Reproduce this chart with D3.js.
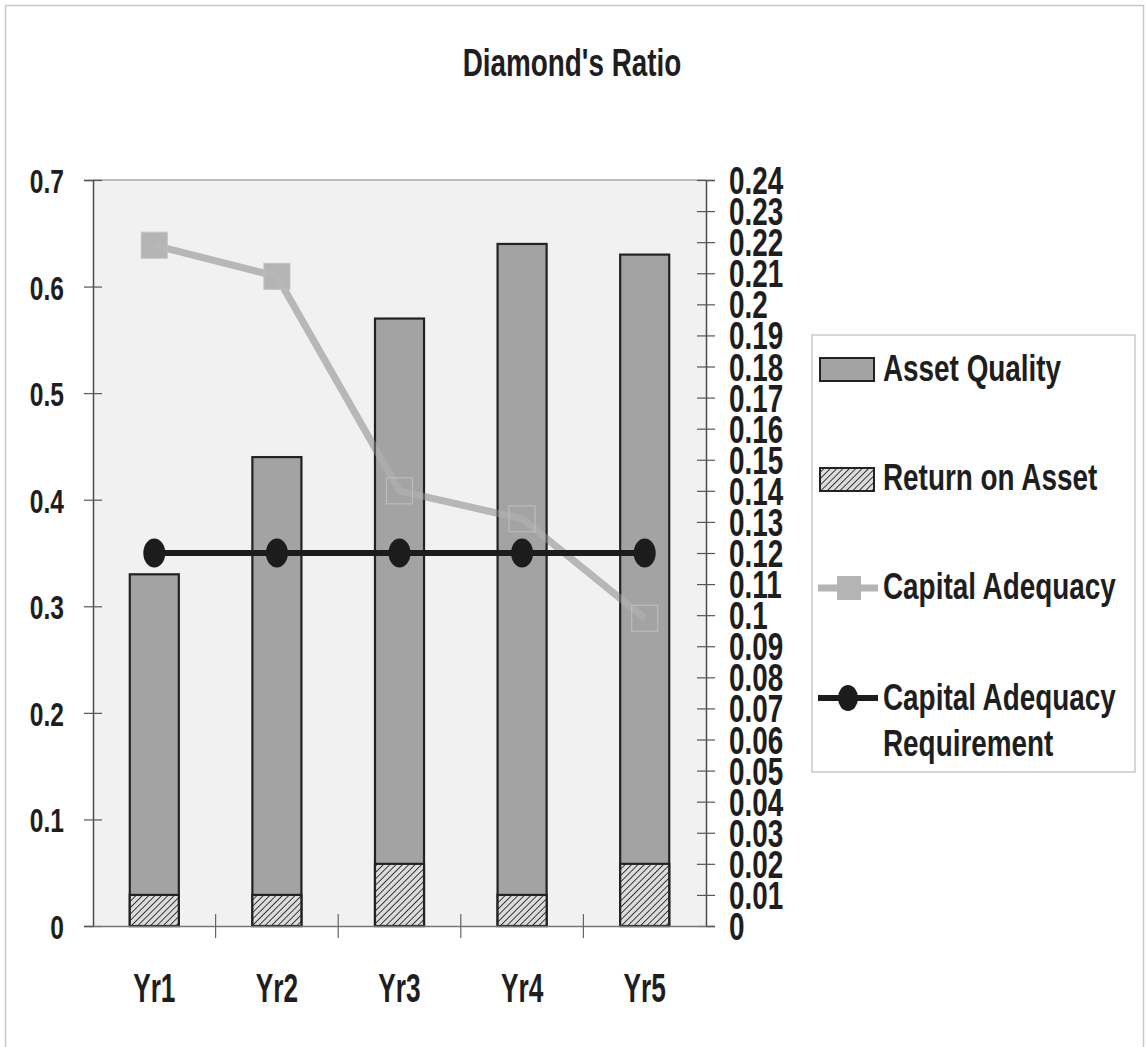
<!DOCTYPE html>
<html>
<head>
<meta charset="utf-8">
<title>Diamond's Ratio</title>
<style>
  body { margin: 0; background: #fff; }
  svg text { font-family: "Liberation Sans", Arial, sans-serif; font-weight: bold; fill: #1e1e1e; }
</style>
</head>
<body>
<script src="https://d3js.org/d3.v7.min.js"></script>
<script>
// data
const categories = ['Yr1', 'Yr2', 'Yr3', 'Yr4', 'Yr5'];
const assetQuality = [0.33, 0.44, 0.57, 0.64, 0.63];          // left axis
const returnOnAsset = [0.01, 0.01, 0.02, 0.01, 0.02];         // right axis
const capitalAdequacy = [0.219, 0.209, 0.14, 0.131, 0.099];   // right axis
const capitalRequirement = [0.12, 0.12, 0.12, 0.12, 0.12];    // right axis
const leftTicks = [0, 0.1, 0.2, 0.3, 0.4, 0.5, 0.6, 0.7];
const rightTicks = [0, 0.01, 0.02, 0.03, 0.04, 0.05, 0.06, 0.07, 0.08, 0.09, 0.1, 0.11, 0.12,
                    0.13, 0.14, 0.15, 0.16, 0.17, 0.18, 0.19, 0.2, 0.21, 0.22, 0.23, 0.24];
const legendNames = ['Asset Quality', 'Return on Asset', 'Capital Adequacy', 'Capital Adequacy|Requirement'];

const W = 1147, H = 1047;
const plot = {left: 93, right: 706, top: 180, bottom: 926};

const svg = d3.select('body').append('svg').attr('width', W).attr('height', H);

// helper: narrow, slightly stretched text like the original
function label(g, x, y, txt, size, sy, anchor) {
  return g.append('text')
    .attr('transform', 'translate(' + x + ',' + y + ') scale(0.82,' + sy + ')')
    .attr('text-anchor', anchor || 'start')
    .style('font-size', size + 'px')
    .text(txt);
}

const defs = svg.append('defs');
const hatch = defs.append('pattern').attr('id', 'hatch')
  .attr('patternUnits', 'userSpaceOnUse').attr('width', 4.5).attr('height', 4.5)
  .attr('patternTransform', 'rotate(45)');
hatch.append('rect').attr('width', 4.5).attr('height', 4.5).attr('fill', '#dcdcdc');
hatch.append('line').attr('x1', 0).attr('y1', 0).attr('x2', 0).attr('y2', 4.5)
  .attr('stroke', '#2a2a2a').attr('stroke-width', 1.8);

// outer frame
svg.append('rect').attr('x', 5.5).attr('y', 5.5).attr('width', 1138).attr('height', 1050)
  .attr('fill', 'none').attr('stroke', '#c8c8c8').attr('stroke-width', 1.5);

// title
label(svg, 572, 76, "Diamond's Ratio", 34, 1.15, 'middle');

const x = d3.scaleBand().domain(categories).range([plot.left, plot.right]).padding(0);
const yL = d3.scaleLinear().domain([0, 0.7]).range([plot.bottom, plot.top]);
const yR = d3.scaleLinear().domain([0, 0.24]).range([plot.bottom, plot.top]);
const barW = x.bandwidth() / 2.5;
const cx = d => x(d) + x.bandwidth() / 2;

// plot area
svg.append('rect').attr('x', plot.left).attr('y', plot.top)
  .attr('width', plot.right - plot.left).attr('height', plot.bottom - plot.top)
  .attr('fill', '#f1f1f1');
svg.append('line').attr('x1', plot.left).attr('x2', plot.right).attr('y1', plot.top).attr('y2', plot.top)
  .attr('stroke', '#a8a8a8').attr('stroke-width', 1.5);

// capital adequacy line (behind the bars)
const caData = categories.map((c, i) => ({c: c, v: capitalAdequacy[i]}));
const caLine = d3.line().x(d => cx(d.c)).y(d => yR(d.v));
function drawCA(g, op) {
  g.append('path').datum(caData).attr('d', caLine)
    .attr('fill', 'none').attr('stroke', '#b4b4b4').attr('stroke-width', 7).attr('opacity', op);
  g.selectAll('rect.m').data(caData).enter().append('rect').attr('class', 'm')
    .attr('x', d => cx(d.c) - 13).attr('y', d => yR(d.v) - 13)
    .attr('width', 26).attr('height', 26)
    .attr('fill', '#b4b4b4').attr('opacity', op);
}
drawCA(svg.append('g'), 1);

// bars
const bars = svg.append('g');
bars.selectAll('rect.aq').data(categories).enter().append('rect').attr('class', 'aq')
  .attr('x', d => cx(d) - barW / 2).attr('width', barW)
  .attr('y', (d, i) => yL(assetQuality[i])).attr('height', (d, i) => plot.bottom - yL(assetQuality[i]))
  .attr('fill', '#a3a3a3').attr('stroke', '#222').attr('stroke-width', 2.2);
bars.selectAll('rect.roa').data(categories).enter().append('rect').attr('class', 'roa')
  .attr('x', d => cx(d) - barW / 2).attr('width', barW)
  .attr('y', (d, i) => yR(returnOnAsset[i])).attr('height', (d, i) => plot.bottom - yR(returnOnAsset[i]))
  .attr('fill', 'url(#hatch)').attr('stroke', '#222').attr('stroke-width', 2.2);

// faint trace of the line over the bars
const trace = svg.append('g');
trace.append('path').datum(caData).attr('d', caLine)
  .attr('fill', 'none').attr('stroke', '#bcbcbc').attr('stroke-width', 7).attr('opacity', 0.35);
trace.selectAll('rect').data(caData).enter().append('rect')
  .attr('x', d => cx(d.c) - 13).attr('y', d => yR(d.v) - 13)
  .attr('width', 26).attr('height', 26)
  .attr('fill', 'none').attr('stroke', '#c2c2c2').attr('stroke-width', 1.2).attr('opacity', 0.8);

// axes
const axL = svg.append('g').attr('transform', 'translate(' + plot.left + ',0)')
  .call(d3.axisLeft(yL).tickValues(leftTicks).tickSize(9).tickFormat(d3.format('')));
const axR = svg.append('g').attr('transform', 'translate(' + plot.right + ',0)')
  .call(d3.axisRight(yR).tickValues(rightTicks).tickSize(9).tickFormat(d3.format('')));
const axB = svg.append('g').attr('transform', 'translate(0,' + plot.bottom + ')')
  .call(d3.axisBottom(x).tickSize(0));

[axL, axR, axB].forEach(a => {
  a.select('.domain').attr('stroke', '#4a4a4a').attr('stroke-width', 1.5);
  a.selectAll('.tick line').attr('stroke', '#555').attr('stroke-width', 1.2);
  a.selectAll('.tick text').remove();
});
axL.selectAll('.tick line').attr('x1', -9).attr('x2', 9);
axR.selectAll('.tick line').attr('x1', -9).attr('x2', 9);
axB.select('.domain').attr('stroke', '#777');

leftTicks.forEach(t => label(svg, 64, yL(t) + 13, String(t), 30, 1.12, 'end'));
rightTicks.forEach(t => label(svg, 729, yR(t) + 14, String(t), 34, 1.15, 'start'));

// category separators
categories.slice(1).forEach(c => {
  svg.append('line').attr('x1', x(c)).attr('x2', x(c)).attr('y1', plot.bottom - 12).attr('y2', plot.bottom + 12)
    .attr('stroke', '#666').attr('stroke-width', 1.2);
});
categories.forEach(c => label(svg, cx(c), 1002, c, 32, 1.27, 'middle'));

// capital adequacy requirement line (on top)
const reqData = categories.map((c, i) => ({c: c, v: capitalRequirement[i]}));
svg.append('path').datum(reqData).attr('d', d3.line().x(d => cx(d.c)).y(d => yR(d.v)))
  .attr('fill', 'none').attr('stroke', '#1c1c1c').attr('stroke-width', 6);
svg.selectAll('ellipse.req').data(reqData).enter().append('ellipse').attr('class', 'req')
  .attr('cx', d => cx(d.c)).attr('cy', d => yR(d.v)).attr('rx', 11).attr('ry', 14.5)
  .attr('fill', '#1c1c1c');

// legend
const lg = svg.append('g');
lg.append('rect').attr('x', 812).attr('y', 335).attr('width', 323).attr('height', 437)
  .attr('fill', '#fff').attr('stroke', '#bdbdbd').attr('stroke-width', 1.2);
lg.append('rect').attr('x', 820).attr('y', 358).attr('width', 54).attr('height', 23)
  .attr('fill', '#a3a3a3').attr('stroke', '#222').attr('stroke-width', 2);
lg.append('rect').attr('x', 820).attr('y', 468).attr('width', 54).attr('height', 23)
  .attr('fill', 'url(#hatch)').attr('stroke', '#222').attr('stroke-width', 2);
lg.append('line').attr('x1', 818).attr('x2', 878).attr('y1', 588).attr('y2', 588)
  .attr('stroke', '#b4b4b4').attr('stroke-width', 7);
lg.append('rect').attr('x', 837).attr('y', 576).attr('width', 24).attr('height', 24).attr('fill', '#b4b4b4');
lg.append('line').attr('x1', 818).attr('x2', 878).attr('y1', 698).attr('y2', 698)
  .attr('stroke', '#1c1c1c').attr('stroke-width', 6);
lg.append('ellipse').attr('cx', 848).attr('cy', 698).attr('rx', 10).attr('ry', 13).attr('fill', '#1c1c1c');

const legendY = [381, 490, 599, 710];
legendNames.forEach((n, i) => {
  n.split('|').forEach((part, j) => label(lg, 883, legendY[i] + j * 46, part, 34, 1.1, 'start'));
});
</script>
</body>
</html>
